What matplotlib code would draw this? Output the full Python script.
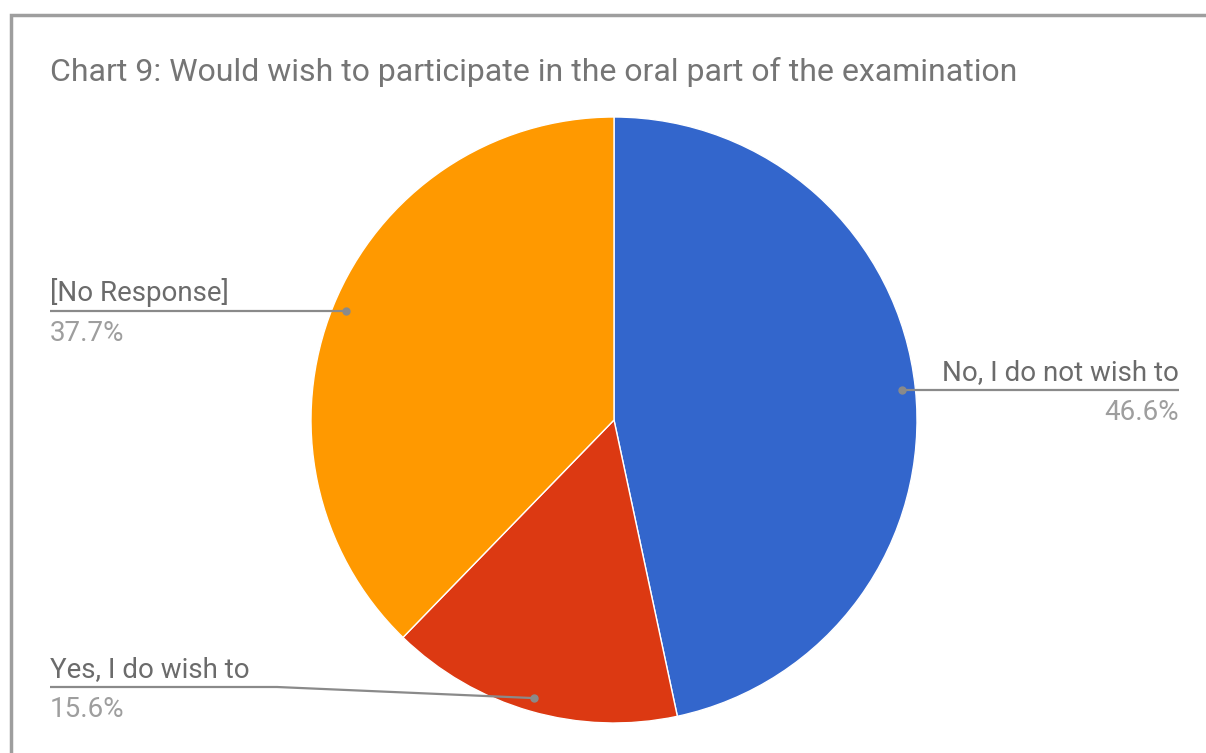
import numpy as np
import matplotlib.pyplot as plt
from matplotlib.patches import Rectangle

plt.rcParams['font.family'] = ['Roboto', 'DejaVu Sans']

title = 'Chart 9: Would wish to participate in the oral part of the examination'
labels = ['No, I do not wish to', 'Yes, I do wish to', '[No Response]']
shares = [46.6, 15.6, 37.7]
colors = ['#3366cc', '#dc3912', '#ff9900']

W, H = 1206, 753
fig = plt.figure(figsize=(W / 100, H / 100), dpi=100)
ax = fig.add_axes([0, 0, 1, 1])
ax.set_xlim(0, W)
ax.set_ylim(0, H)
ax.set_aspect('equal')
ax.axis('off')

# outer frame, runs off the right and bottom edges
ax.add_patch(Rectangle((11, -20), W + 40, H - 15 + 20, fill=False,
                       edgecolor='#9e9e9e', linewidth=2.5, clip_on=False))

cx, cy, r = 614, H - 420, 303
ax.pie(shares, colors=colors, startangle=90, counterclock=False,
       center=(cx, cy), radius=r, frame=True,
       wedgeprops=dict(edgecolor='white', linewidth=1))
ax.set_xlim(0, W)
ax.set_ylim(0, H)
ax.axis('off')

ax.text(50, H - 72, title, fontsize=23, color='#757575', va='center', ha='left')

# leader line anchor at the middle angle of each slice
total = sum(shares)
start = 90.0
anchors = []
for s in shares:
    mid = np.deg2rad(start - s / total * 360 / 2)
    anchors.append((cx + 0.955 * r * np.cos(mid), cy + 0.955 * r * np.sin(mid)))
    start -= s / total * 360

line_kw = dict(color='#8a8a8a', linewidth=1.6, solid_capstyle='butt')
lab_col, pct_col = '#6b6b6b', '#9e9e9e'
fs = 20
up, down = 10, 9

# No, I do not wish to (right side)
ax0, ay0 = anchors[0]
ax.plot([ax0, 1179], [ay0, ay0], **line_kw)
ax.plot(ax0, ay0, 'o', color='#8a8a8a', ms=5)
ax.text(1179, ay0 + up, labels[0], fontsize=fs, color=lab_col, ha='right', va='baseline')
ax.text(1179, ay0 - down, '%.1f%%' % shares[0], fontsize=fs, color=pct_col, ha='right', va='top')

# Yes, I do wish to (bottom left)
ax1, ay1 = anchors[1]
ly = H - 687
ax.plot([50, 277, ax1], [ly, ly, ay1], **line_kw)
ax.plot(ax1, ay1, 'o', color='#8a8a8a', ms=5)
ax.text(50, ly + up, labels[1], fontsize=fs, color=lab_col, ha='left', va='baseline')
ax.text(50, ly - down, '%.1f%%' % shares[1], fontsize=fs, color=pct_col, ha='left', va='top')

# [No Response] (upper left)
ax2, ay2 = anchors[2]
ax.plot([50, ax2], [ay2, ay2], **line_kw)
ax.plot(ax2, ay2, 'o', color='#8a8a8a', ms=5)
ax.text(50, ay2 + up, labels[2], fontsize=fs, color=lab_col, ha='left', va='baseline')
ax.text(50, ay2 - down, '%.1f%%' % shares[2], fontsize=fs, color=pct_col, ha='left', va='top')

fig.savefig('out.png', dpi=100, facecolor='white')
